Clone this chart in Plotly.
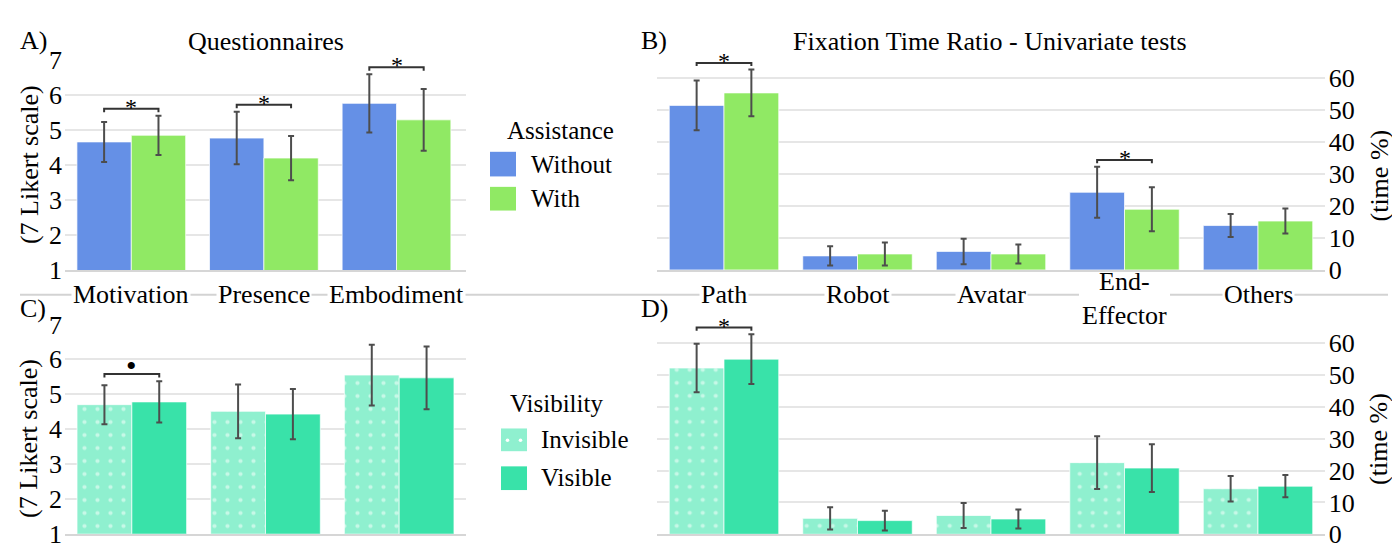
import plotly.graph_objects as go

# ---------------- data ----------------
q_categories = ["Motivation", "Presence", "Embodiment"]
q_without = [4.66, 4.77, 5.76]
q_without_err = [0.57, 0.75, 0.83]
q_with = [4.85, 4.20, 5.29]
q_with_err = [0.56, 0.63, 0.88]
q_invisible = [4.70, 4.51, 5.55]
q_invisible_err = [0.56, 0.77, 0.87]
q_visible = [4.78, 4.43, 5.47]
q_visible_err = [0.59, 0.72, 0.90]

f_categories = ["Path", "Robot", "Avatar", "End-Effector", "Others"]
f_labels = ["Path", "Robot", "Avatar", "End-<br>Effector", "Others"]
f_without = [51.5, 4.4, 5.8, 24.3, 13.9]
f_without_err = [7.8, 3.0, 4.0, 8.0, 3.6]
f_with = [55.4, 5.0, 5.0, 19.0, 15.3]
f_with_err = [7.3, 3.6, 3.0, 6.9, 3.9]
f_invisible = [52.2, 5.0, 5.9, 22.5, 14.3]
f_invisible_err = [7.6, 3.5, 3.95, 8.3, 4.0]
f_visible = [55.0, 4.3, 4.8, 20.8, 15.1]
f_visible_err = [7.8, 3.1, 3.0, 7.5, 3.5]

likert_ticks = [1, 2, 3, 4, 5, 6, 7]
time_ticks = [0, 10, 20, 30, 40, 50, 60]

sig_A = [("Motivation", "*"), ("Presence", "*"), ("Embodiment", "*")]
sig_B = [("Path", "*"), ("End-Effector", "*")]
sig_C = [("Motivation", "•")]
sig_D = [("Path", "*")]

# ---------------- styles ----------------
W, H = 1400, 552
FONT = "Liberation Serif"
BLUE = "#6590e6"
GREEN = "#90e964"
LTEAL = "#8ff0cf"
TEAL = "#39e2a9"
BARGAP = 0.18


def X(px):
    return px / W


def Y(py):
    return 1 - py / H


err_style = dict(type="data", color="#4d4d4d", thickness=2, width=3, visible=True)
edge = dict(width=1, color="rgba(255,255,255,0.7)")
dots = dict(shape=".", fgcolor="white", bgcolor=LTEAL, size=13, solidity=0.08)

fig = go.Figure()

def add_pair(cats, v1, e1, v2, e2, c1, c2, xa, ya, pattern1=None):
    m1 = dict(color=c1, line=edge)
    if pattern1:
        m1["pattern"] = pattern1
    fig.add_trace(go.Bar(x=cats, y=v1, error_y=dict(array=e1, **err_style),
                         marker=m1, xaxis=xa, yaxis=ya, showlegend=False))
    fig.add_trace(go.Bar(x=cats, y=v2, error_y=dict(array=e2, **err_style),
                         marker=dict(color=c2, line=edge), xaxis=xa, yaxis=ya,
                         showlegend=False))

add_pair(q_categories, q_without, q_without_err, q_with, q_with_err, BLUE, GREEN, "x", "y")
add_pair(f_categories, f_without, f_without_err, f_with, f_with_err, BLUE, GREEN, "x2", "y2")
add_pair(q_categories, q_invisible, q_invisible_err, q_visible, q_visible_err, LTEAL, TEAL, "x3", "y3", dots)
add_pair(f_categories, f_invisible, f_invisible_err, f_visible, f_visible_err, LTEAL, TEAL, "x4", "y4", dots)

shapes = []
annotations = []

# significance brackets
half = (1 - BARGAP) / 4

def brackets(sig, cats, v1, e1, v2, e2, xr, yr, off, tick, yshift):
    for cat, sym in sig:
        i = cats.index(cat)
        top = max(v1[i] + e1[i], v2[i] + e2[i]) + off
        x0, x1 = i - half, i + half
        shapes.append(dict(type="path", xref=xr, yref=yr,
                           path=f"M {x0},{top - tick} L {x0},{top} L {x1},{top} L {x1},{top - tick}",
                           line=dict(color="#333333", width=2)))
        size = 30 if sym == "•" else 24
        annotations.append(dict(x=i, y=top, xref=xr, yref=yr, text=sym, showarrow=False,
                                yanchor="middle", yshift=yshift,
                                font=dict(family=FONT, size=size, color="black")))

brackets(sig_A, q_categories, q_without, q_without_err, q_with, q_with_err, "x", "y", 0.2, 0.1, 2)
brackets(sig_B, f_categories, f_without, f_without_err, f_with, f_with_err, "x2", "y2", 2.1, 1.0, 2)
brackets(sig_C, q_categories, q_invisible, q_invisible_err, q_visible, q_visible_err, "x3", "y3", 0.21, 0.1, 9)
brackets(sig_D, f_categories, f_invisible, f_invisible_err, f_visible, f_visible_err, "x4", "y4", 2.1, 1.0, 2)

# separator line behind the category labels
shapes.append(dict(type="line", xref="paper", yref="paper", x0=X(12), x1=X(1380),
                   y0=Y(288), y1=Y(288), line=dict(color="#d3d3d3", width=2), layer="below"))
# gap in the separator behind the two-line "End-Effector" label
shapes.append(dict(type="rect", xref="paper", yref="paper", x0=X(1071), x1=X(1162),
                   y0=Y(293), y1=Y(283), fillcolor="white", line=dict(width=0), layer="below"))

# category labels (with white background so the separator is interrupted)
for i, lab in enumerate(q_categories):
    annotations.append(dict(x=i, xref="x", y=Y(288), yref="paper", text=lab, showarrow=False,
                            yanchor="middle", bgcolor="white", borderpad=1,
                            font=dict(family=FONT, size=26, color="black")))
for i, lab in enumerate(f_labels):
    two = "<br>" in lab
    annotations.append(dict(x=i, xref="x2", y=Y(291.5) if two else Y(288), yref="paper",
                            text=lab, showarrow=False, yanchor="middle",
                            bgcolor=None if two else "white", borderpad=1,
                            font=dict(family=FONT, size=26, color="black")))

def txt(text, x, y, xanchor="center", size=26, angle=0, family=FONT):
    annotations.append(dict(x=X(x), y=Y(y), xref="paper", yref="paper", text=text,
                            showarrow=False, xanchor=xanchor, yanchor="middle",
                            textangle=angle, font=dict(family=family, size=size, color="black")))

# panel labels and titles
txt("A)", 10, 19, "left")
txt("Questionnaires", 258, 21)
txt("B)", 631, 19, "left")
txt("Fixation Time Ratio - Univariate tests", 982, 21)
txt("C)", 10, 302, "left")
txt("D)", 631, 302, "left")

# axis titles
txt("(7 Likert scale)", 21, 151, angle=-90)
txt("(7 Likert scale)", 21, 440, angle=-90)
txt("(time %)", 1371, 162, angle=-90)
txt("(time %)", 1371, 440, angle=-90)

# legends (drawn manually)
txt("Assistance", 552, 115, size=25)
shapes.append(dict(type="rect", xref="paper", yref="paper", x0=X(482), x1=X(508),
                   y0=Y(163), y1=Y(137), fillcolor=BLUE, line=dict(width=0)))
shapes.append(dict(type="rect", xref="paper", yref="paper", x0=X(482), x1=X(508),
                   y0=Y(199), y1=Y(174), fillcolor=GREEN, line=dict(width=0)))
txt("Without", 521, 150, "left", size=25)
txt("With", 521, 186.5, "left", size=25)

txt("Visibility", 548, 403, size=25)
shapes.append(dict(type="rect", xref="paper", yref="paper", x0=X(493), x1=X(519),
                   y0=Y(453), y1=Y(429), fillcolor=LTEAL, line=dict(width=0)))
for cx in (499.5, 512.5):
    shapes.append(dict(type="circle", xref="paper", yref="paper", x0=X(cx - 1.8), x1=X(cx + 1.8),
                       y0=Y(441.5 + 1.8), y1=Y(441.5 - 1.8), fillcolor="white", line=dict(width=0)))
shapes.append(dict(type="rect", xref="paper", yref="paper", x0=X(493), x1=X(519),
                   y0=Y(494), y1=Y(469), fillcolor=TEAL, line=dict(width=0)))
txt("Invisible", 531, 441, "left", size=25)
txt("Visible", 531, 481, "left", size=25)

# ---------------- axes ----------------
xbase = dict(type="category", showticklabels=False, showgrid=False, showline=True,
             linecolor="#d6d6d6", linewidth=2, ticks="", zeroline=False, fixedrange=True)
ybase = dict(showgrid=True, gridcolor="#e6e6e6", gridwidth=1.5, zeroline=False, showline=False,
             ticks="", tickfont=dict(family=FONT, size=26, color="black"), fixedrange=True)

left_x = [X(57), X(458)]
right_x = [X(649.25), X(1316.75)]

fig.update_layout(
    width=W, height=H,
    margin=dict(l=0, r=0, t=0, b=0),
    paper_bgcolor="white", plot_bgcolor="white",
    barmode="group", bargap=BARGAP, bargroupgap=0,
    font=dict(family=FONT, size=26, color="black"),
    xaxis=dict(domain=left_x, anchor="y", **xbase),
    yaxis=dict(domain=[Y(262), Y(40)], range=[1, 7], tickvals=likert_ticks, anchor="x",
               ticklabelstandoff=2, **ybase),
    xaxis2=dict(domain=right_x, anchor="y2", **xbase),
    yaxis2=dict(domain=[Y(261.7), Y(25.6)], range=[0, 70], tickvals=time_ticks, anchor="x2",
                side="right", ticklabelstandoff=3, **ybase),
    xaxis3=dict(domain=left_x, anchor="y3", **xbase),
    yaxis3=dict(domain=[Y(540), Y(319.3)], range=[1, 7], tickvals=likert_ticks, anchor="x3",
                ticklabelstandoff=2, **ybase),
    xaxis4=dict(domain=right_x, anchor="y4", **xbase),
    yaxis4=dict(domain=[Y(540.7), Y(305.4)], range=[0, 70], tickvals=time_ticks, anchor="x4",
                side="right", ticklabelstandoff=3, **ybase),
    shapes=shapes,
    annotations=annotations,
)

fig.write_html("out.html")
